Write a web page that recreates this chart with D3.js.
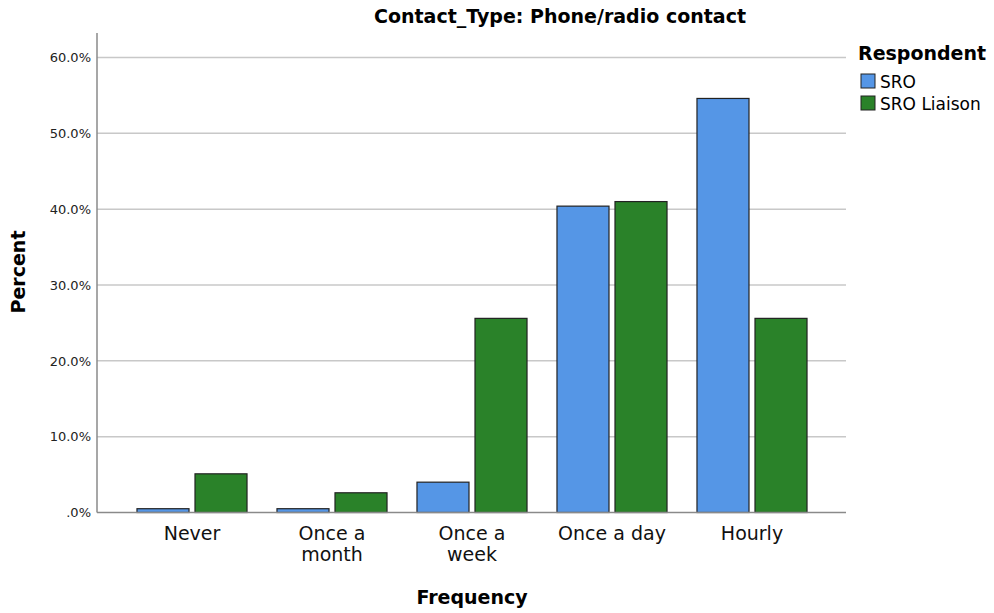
<!DOCTYPE html>
<html lang="en">
<head>
    <meta charset="UTF-8">
    <title>Contact_Type: Phone/radio contact</title>
    <script src="https://d3js.org/d3.v7.min.js"></script>
    <style>
        body {
            margin: 0;
            padding: 0;
            background: #fff;
            font-family: "DejaVu Sans", Arial, sans-serif;
        }
        svg { display: block; }
        .grid line { stroke: #c8c8c8; stroke-width: 1.5; }
        .bar { stroke: #222; stroke-width: 1.2; }
    </style>
</head>
<body>
    <svg width="994" height="613"></svg>

    <script>
        // Data
        const categories = ["Never", "Once a month", "Once a week", "Once a day", "Hourly"];
        const categoryLines = [["Never"], ["Once a", "month"], ["Once a", "week"], ["Once a day"], ["Hourly"]];
        const respondents = ["SRO", "SRO Liaison"];
        const sroValues = [0.5, 0.5, 4.0, 40.4, 54.6];
        const liaisonValues = [5.1, 2.6, 25.6, 41.0, 25.6];
        const yTicks = [0, 10, 20, 30, 40, 50, 60];

        const colors = { "SRO": "#5596e6", "SRO Liaison": "#2a8229" };

        const rows = categories.map((c, i) => ({
            category: c,
            values: [
                { key: "SRO", value: sroValues[i] },
                { key: "SRO Liaison", value: liaisonValues[i] }
            ]
        }));

        const svg = d3.select("svg");
        const plot = { left: 97, right: 846, top: 33, bottom: 512.5 };

        const x = d3.scaleBand()
            .domain(categories)
            .range([122, 822])
            .paddingInner(0.214)
            .paddingOuter(0.107);

        const xSub = d3.scaleBand()
            .domain(respondents)
            .range([0, x.bandwidth()])
            .paddingInner(0.1034);

        const y = d3.scaleLinear()
            .domain([0, 60])
            .range([plot.bottom, 57.5]);

        // Gridlines
        svg.append("g")
            .attr("class", "grid")
            .selectAll("line")
            .data(yTicks.filter(d => d > 0))
            .enter().append("line")
            .attr("x1", plot.left)
            .attr("x2", plot.right)
            .attr("y1", d => y(d))
            .attr("y2", d => y(d));

        // Y axis
        const yAxis = svg.append("g")
            .attr("transform", `translate(${plot.left},0)`)
            .call(d3.axisLeft(y)
                .tickValues(yTicks)
                .tickSize(0)
                .tickPadding(6)
                .tickFormat(d => d === 0 ? ".0%" : d.toFixed(1) + "%"));
        yAxis.select(".domain").remove();
        yAxis.selectAll("text")
            .style("font-family", "DejaVu Sans, sans-serif")
            .style("font-size", "13px")
            .attr("fill", "#222");

        svg.append("line")
            .attr("x1", plot.left).attr("x2", plot.left)
            .attr("y1", plot.top).attr("y2", plot.bottom)
            .attr("stroke", "#8a8a8a").attr("stroke-width", 1.5);

        // Bars
        const groups = svg.selectAll(".group")
            .data(rows)
            .enter().append("g")
            .attr("class", "group")
            .attr("transform", d => `translate(${x(d.category)},0)`);

        groups.selectAll("rect")
            .data(d => d.values)
            .enter().append("rect")
            .attr("class", "bar")
            .attr("x", d => xSub(d.key))
            .attr("y", d => y(d.value))
            .attr("width", xSub.bandwidth())
            .attr("height", d => y(0) - y(d.value))
            .attr("fill", d => colors[d.key]);

        // X baseline
        svg.append("line")
            .attr("x1", plot.left).attr("x2", plot.right)
            .attr("y1", plot.bottom).attr("y2", plot.bottom)
            .attr("stroke", "#8a8a8a").attr("stroke-width", 1.5);

        // X category labels
        const xLabels = svg.append("g")
            .selectAll("text")
            .data(categories)
            .enter().append("text")
            .attr("x", d => x(d) + x.bandwidth() / 2)
            .attr("y", 540)
            .attr("text-anchor", "middle")
            .style("font-size", "19px")
            .attr("fill", "#111");
        xLabels.each(function (d, i) {
            const t = d3.select(this);
            categoryLines[i].forEach((line, j) => {
                t.append("tspan")
                    .attr("x", x(d) + x.bandwidth() / 2)
                    .attr("dy", j === 0 ? 0 : 21)
                    .text(line);
            });
        });

        // Title
        svg.append("text")
            .attr("x", 560)
            .attr("y", 23)
            .attr("text-anchor", "middle")
            .style("font-size", "19px")
            .style("font-weight", "bold")
            .text("Contact_Type: Phone/radio contact");

        // Axis titles
        svg.append("text")
            .attr("x", 472)
            .attr("y", 604)
            .attr("text-anchor", "middle")
            .style("font-size", "19px")
            .style("font-weight", "bold")
            .text("Frequency");

        svg.append("text")
            .attr("transform", "rotate(-90)")
            .attr("x", -272)
            .attr("y", 25)
            .attr("text-anchor", "middle")
            .style("font-size", "19px")
            .style("font-weight", "bold")
            .text("Percent");

        // Legend
        const legend = svg.append("g").attr("transform", "translate(858,0)");
        legend.append("text")
            .attr("x", 0)
            .attr("y", 60)
            .style("font-size", "19px")
            .style("font-weight", "bold")
            .text("Respondent");

        const items = legend.selectAll(".item")
            .data(respondents)
            .enter().append("g")
            .attr("transform", (d, i) => `translate(3,${74 + i * 22})`);
        items.append("rect")
            .attr("width", 14)
            .attr("height", 14)
            .attr("fill", d => colors[d])
            .attr("stroke", "#222")
            .attr("stroke-width", 1);
        items.append("text")
            .attr("x", 19)
            .attr("y", 14)
            .style("font-size", "17px")
            .text(d => d);
    </script>
</body>
</html>
